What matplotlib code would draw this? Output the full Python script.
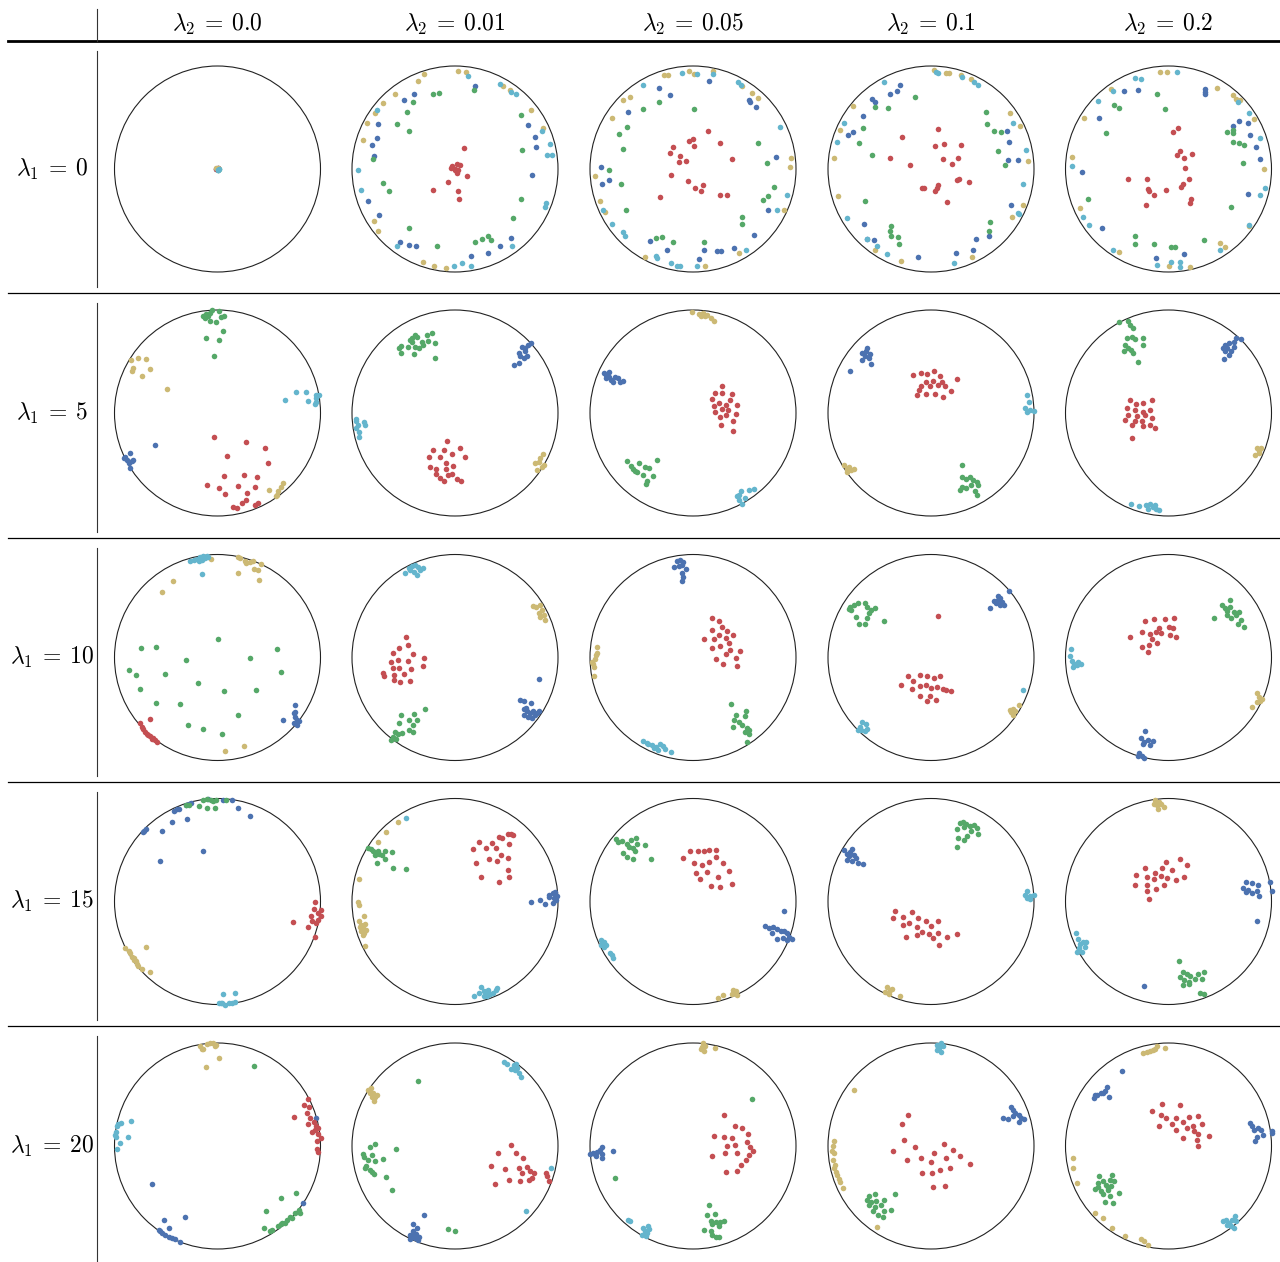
import numpy as np
import matplotlib
matplotlib.use('Agg')
import matplotlib.pyplot as plt
from matplotlib.patches import Circle
from matplotlib.lines import Line2D

# grid labels
lam1 = [0, 5, 10, 15, 20]
lam2 = ['0.0', '0.01', '0.05', '0.1', '0.2']

# embedded points (unit disc coords), one list per panel, row-major (lambda1 rows, lambda2 cols)
blue = [
    [(0.0,0.01),(-0.01,0.0)],
    [(0.19,0.81),(-0.40,0.73),(-0.50,0.67),(-0.75,0.44),(-0.76,0.30),(-0.81,0.23),(-0.79,0.13),(0.71,0.43),(0.78,0.31),(0.79,0.21),(0.75,-0.06),(-0.84,-0.31),(-0.74,-0.45),(-0.53,-0.71),(-0.45,-0.74),(-0.38,-0.75),(0.16,-0.84),(0.32,-0.82),(0.44,-0.75),(0.54,-0.67)],
    [(0.16,0.85),(-0.33,0.79),(-0.22,0.72),(0.54,0.67),(0.55,0.65),(0.61,0.60),(-0.63,0.55),(0.81,0.12),(-0.89,0.02),(-0.88,-0.15),(-0.82,-0.11),(0.73,-0.40),(0.59,-0.64),(-0.42,-0.70),(-0.25,-0.79),(0.11,-0.79),(0.23,-0.80),(0.27,-0.80),(0.40,-0.77),(0.06,-0.87)],
    [(-0.30,0.82),(-0.33,0.76),(-0.40,0.73),(-0.57,0.68),(-0.54,0.65),(-0.66,0.51),(-0.76,0.36),(-0.81,0.33),(0.74,0.37),(0.76,0.26),(0.75,0.09),(0.84,0.09),(0.78,-0.35),(-0.65,-0.53),(-0.55,-0.69),(-0.62,-0.68),(0.44,-0.68),(0.56,-0.65),(0.24,-0.82),(0.41,-0.79),(-0.13,-0.85)],
    [(-0.43,0.76),(-0.30,0.77),(0.35,0.78),(0.35,0.75),(0.35,0.73),(-0.67,0.50),(0.68,0.47),(0.63,0.42),(0.77,0.45),(0.79,0.33),(0.85,0.21),(0.89,0.10),(-0.84,-0.03),(-0.65,-0.57),(0.77,-0.24),(-0.12,-0.86),(0.15,-0.83)],
    [(-0.61,-0.31),(-0.90,-0.43),(-0.88,-0.46),(-0.85,-0.39),(-0.82,-0.46),(-0.86,-0.49),(-0.85,-0.53),(-0.91,-0.44),(-0.83,-0.47)],
    [(0.57,0.47),(0.62,0.49),(0.62,0.58),(0.65,0.64),(0.68,0.63),(0.71,0.66),(0.74,0.68),(0.67,0.53),(0.70,0.55),(0.63,0.55),(0.68,0.60)],
    [(-0.86,0.39),(-0.84,0.37),(-0.82,0.35),(-0.84,0.34),(-0.80,0.32),(-0.76,0.35),(-0.73,0.34),(-0.78,0.30),(-0.68,0.31),(-0.71,0.30),(-0.82,0.40)],
    [(-0.62,0.63),(-0.67,0.58),(-0.64,0.55),(-0.60,0.53),(-0.58,0.48),(-0.67,0.51),(-0.63,0.60),(-0.59,0.57),(-0.79,0.41)],
    [(0.66,0.73),(0.70,0.72),(0.64,0.69),(0.59,0.68),(0.55,0.66),(0.53,0.63),(0.57,0.63),(0.61,0.60),(0.55,0.60),(0.59,0.56),(0.54,0.52),(0.64,0.64)],
    [(0.75,-0.46),(0.64,-0.61),(0.74,-0.54),(0.75,-0.58),(0.77,-0.61),(0.74,-0.64),(0.77,-0.66),(0.79,-0.62),(0.75,-0.53)],
    [(0.82,-0.21),(0.63,-0.41),(0.67,-0.42),(0.74,-0.44),(0.67,-0.50),(0.70,-0.52),(0.73,-0.54),(0.76,-0.52),(0.80,-0.54),(0.82,-0.52),(0.67,-0.56),(0.71,-0.58),(0.75,-0.59),(0.78,-0.56),(0.69,-0.49)],
    [(-0.16,0.94),(-0.13,0.95),(-0.10,0.93),(-0.14,0.89),(-0.11,0.90),(-0.07,0.86),(-0.11,0.82),(-0.10,0.78),(-0.11,0.74),(-0.18,0.88)],
    [(0.76,0.65),(0.65,0.60),(0.67,0.58),(0.69,0.54),(0.63,0.53),(0.67,0.51),(0.71,0.51),(0.61,0.55),(0.65,0.56),(0.57,0.48)],
    [(-0.23,-0.71),(-0.27,-0.78),(-0.24,-0.82),(-0.20,-0.80),(-0.15,-0.81),(-0.18,-0.85),(-0.25,-0.84),(-0.29,-0.93),(-0.26,-0.96),(-0.24,-0.98),(-0.30,-0.96)],
    [(-0.71,0.68),(-0.69,0.70),(-0.72,0.67),(-0.54,0.68),(-0.44,0.77),(-0.30,0.80),(-0.42,0.88),(-0.39,0.90),(-0.37,0.90),(-0.31,0.94),(-0.28,0.95),(-0.26,0.96),(-0.14,0.49),(-0.56,0.39),(-0.09,1.00),(0.05,0.99),(0.14,0.99),(0.20,0.91),(0.32,0.83)],
    [(0.74,0.00),(0.83,0.01),(0.87,-0.02),(0.91,0.06),(0.95,0.08),(0.97,0.09),(0.99,0.05),(0.96,0.03),(0.95,-0.01),(0.98,0.01),(0.91,0.04)],
    [(0.88,-0.09),(0.70,-0.24),(0.74,-0.26),(0.78,-0.25),(0.82,-0.27),(0.85,-0.29),(0.88,-0.29),(0.91,-0.31),(0.93,-0.34),(0.96,-0.36),(0.91,-0.37),(0.87,-0.35),(0.82,-0.36),(0.77,-0.31)],
    [(-0.84,0.50),(-0.82,0.46),(-0.79,0.48),(-0.80,0.44),(-0.75,0.45),(-0.73,0.42),(-0.77,0.39),(-0.82,0.40),(-0.71,0.37),(-0.66,0.36),(-0.77,0.51)],
    [(0.75,0.19),(0.81,0.18),(0.87,0.16),(0.72,0.13),(0.77,0.11),(0.81,0.08),(0.86,0.10),(0.88,0.05),(0.75,0.09),(0.99,0.19),(1.00,0.10),(0.86,-0.19),(-0.24,-0.82)],
    [(0.83,-0.55),(0.96,0.27),(-0.64,-0.37),(-0.52,-0.72),(-0.32,-0.69),(-0.47,-0.80),(-0.57,-0.82),(-0.54,-0.84),(-0.51,-0.86),(-0.47,-0.88),(-0.44,-0.89),(-0.41,-0.90),(-0.36,-0.93),(-0.56,-0.83)],
    [(-0.30,-0.67),(-0.41,-0.76),(-0.37,-0.80),(-0.44,-0.86),(-0.42,-0.87),(-0.39,-0.89),(-0.36,-0.91),(-0.44,-0.90),(-0.35,-0.88),(-0.38,-0.85),(-0.41,-0.83)],
    [(-0.97,-0.07),(-0.95,-0.08),(-0.93,-0.06),(-0.90,-0.04),(-0.88,-0.01),(-0.88,-0.08),(-0.94,-0.10),(-1.00,-0.08),(-0.78,-0.05),(-0.88,-0.12)],
    [(0.70,0.27),(0.75,0.26),(0.78,0.38),(0.80,0.35),(0.82,0.32),(0.85,0.30),(0.87,0.27),(0.90,0.26),(0.85,0.23),(0.80,0.29)],
    [(-0.45,0.73),(-0.72,0.47),(-0.69,0.50),(-0.66,0.51),(-0.62,0.53),(-0.60,0.57),(-0.58,0.48),(-0.64,0.51),(-0.71,0.50),(0.79,0.22),(0.81,0.19),(0.83,0.16),(0.87,0.17),(0.90,0.16),(0.92,0.11),(0.86,0.09),(0.84,0.05),(1.00,0.15),(1.00,0.13)],
]

green = [
    [(0.01,0.0),(0.0,-0.01)],
    [(-0.21,0.73),(-0.16,0.74),(0.18,0.77),(-0.41,0.65),(-0.47,0.55),(-0.56,0.44),(-0.45,0.37),(0.64,0.52),(0.65,0.18),(-0.80,0.10),(-0.70,-0.14),(-0.64,-0.21),(0.64,-0.29),(0.56,-0.48),(-0.45,-0.57),(-0.17,-0.75),(0.19,-0.71),(0.26,-0.68),(0.32,-0.65),(0.35,-0.69)],
    [(-0.33,0.65),(0.01,0.58),(-0.49,0.58),(-0.64,0.41),(-0.72,0.34),(-0.68,0.19),(-0.82,-0.01),(-0.70,-0.15),(0.63,0.25),(0.72,0.06),(0.79,-0.17),(0.73,-0.26),(0.68,-0.30),(-0.65,-0.40),(0.48,-0.47),(0.48,-0.53),(-0.36,-0.67),(-0.30,-0.66),(-0.19,-0.71),(0.11,-0.71)],
    [(-0.16,0.70),(-0.42,0.59),(-0.54,0.60),(-0.66,0.40),(-0.70,0.25),(-0.57,0.14),(0.53,0.55),(0.54,0.44),(0.61,0.37),(0.68,0.36),(0.65,0.17),(0.72,0.04),(-0.64,-0.31),(-0.39,-0.55),(-0.40,-0.60),(-0.39,-0.65),(-0.32,-0.66),(-0.31,-0.73),(0.57,-0.51),(0.56,-0.60)],
    [(-0.11,0.73),(-0.03,0.58),(-0.53,0.62),(-0.48,0.59),(-0.61,0.35),(0.57,0.36),(0.63,0.38),(0.63,0.35),(0.63,0.26),(0.68,0.25),(0.73,0.23),(0.72,0.06),(-0.78,-0.29),(0.61,-0.37),(-0.33,-0.65),(-0.33,-0.73),(-0.14,-0.73),(0.02,-0.76),(0.06,-0.76),(0.34,-0.69)],
    [(-0.14,0.94),(-0.11,0.96),(-0.07,0.97),(-0.05,1.00),(0.01,0.99),(-0.12,0.92),(-0.09,0.94),(0.03,0.93),(0.06,0.94),(-0.07,0.89),(-0.01,0.88),(0.05,0.80),(-0.11,0.73),(0.01,0.71),(-0.03,0.55)],
    [(-0.54,0.63),(-0.52,0.65),(-0.52,0.58),(-0.46,0.64),(-0.44,0.71),(-0.42,0.73),(-0.39,0.76),(-0.37,0.74),(-0.40,0.57),(-0.39,0.64),(-0.35,0.63),(-0.32,0.69),(-0.31,0.66),(-0.27,0.76),(-0.22,0.78),(-0.26,0.70),(-0.19,0.68),(-0.19,0.53),(-0.42,0.69)],
    [(-0.64,-0.47),(-0.60,-0.51),(-0.58,-0.54),(-0.54,-0.57),(-0.49,-0.60),(-0.52,-0.49),(-0.47,-0.52),(-0.43,-0.53),(-0.35,-0.46),(-0.45,-0.66),(-0.46,-0.69),(-0.39,-0.61),(-0.56,-0.56)],
    [(0.30,-0.50),(0.30,-0.62),(0.34,-0.64),(0.41,-0.65),(0.45,-0.67),(0.39,-0.70),(0.30,-0.72),(0.28,-0.75),(0.34,-0.73),(0.43,-0.76),(0.45,-0.80),(0.38,-0.62),(0.46,-0.70)],
    [(-0.48,0.88),(-0.39,0.89),(-0.37,0.85),(-0.34,0.83),(-0.40,0.73),(-0.35,0.74),(-0.33,0.72),(-0.25,0.73),(-0.25,0.66),(-0.42,0.66),(-0.39,0.63),(-0.43,0.60),(-0.36,0.61),(-0.34,0.58),(-0.30,0.50)],
    [(0.00,0.18),(-0.74,0.09),(-0.60,0.10),(0.58,0.08),(-0.31,-0.02),(0.32,0.00),(-0.86,-0.12),(-0.79,-0.17),(-0.51,-0.16),(0.62,-0.14),(-0.75,-0.31),(-0.19,-0.25),(0.06,-0.33),(0.37,-0.32),(-0.60,-0.44),(-0.36,-0.45),(0.20,-0.56),(-0.29,-0.66),(-0.14,-0.69),(0.04,-0.74)],
    [(-0.29,-0.50),(-0.52,-0.56),(-0.40,-0.55),(-0.45,-0.61),(-0.37,-0.61),(-0.54,-0.64),(-0.41,-0.66),(-0.45,-0.70),(-0.41,-0.72),(-0.58,-0.72),(-0.55,-0.74),(-0.51,-0.73),(-0.60,-0.77),(-0.62,-0.80),(-0.57,-0.79)],
    [(0.37,-0.45),(0.51,-0.52),(0.42,-0.56),(0.50,-0.57),(0.40,-0.61),(0.45,-0.63),(0.48,-0.66),(0.52,-0.68),(0.54,-0.70),(0.50,-0.72),(0.54,-0.74),(0.39,-0.67),(0.52,-0.82)],
    [(-0.79,0.49),(-0.78,0.46),(-0.75,0.51),(-0.71,0.53),(-0.64,0.53),(-0.62,0.49),(-0.58,0.46),(-0.54,0.48),(-0.60,0.43),(-0.62,0.38),(-0.70,0.33),(-0.64,0.33),(-0.73,0.39),(-0.80,0.47),(-0.46,0.35)],
    [(0.60,0.56),(0.52,0.51),(0.55,0.48),(0.57,0.45),(0.60,0.49),(0.64,0.44),(0.66,0.41),(0.68,0.44),(0.70,0.36),(0.73,0.30),(0.57,0.41),(0.61,0.38),(0.44,0.38),(0.67,0.33)],
    [(-0.31,0.94),(-0.28,0.94),(-0.18,0.93),(-0.14,0.99),(-0.10,1.00),(-0.06,0.99),(-0.04,0.98),(-0.01,0.99),(0.08,0.99),(-0.10,0.91),(-0.02,0.91)],
    [(-0.84,0.52),(-0.82,0.51),(-0.80,0.49),(-0.77,0.47),(-0.74,0.46),(-0.71,0.45),(-0.75,0.49),(-0.78,0.45),(-0.68,0.49),(-0.61,0.48),(-0.76,0.37),(-0.68,0.41),(-0.60,0.33),(-0.48,0.32)],
    [(-0.75,0.61),(-0.73,0.58),(-0.69,0.59),(-0.64,0.56),(-0.60,0.60),(-0.55,0.62),(-0.62,0.53),(-0.58,0.52),(-0.54,0.56),(-0.47,0.55),(-0.68,0.47),(-0.64,0.43),(-0.58,0.41),(-0.56,0.49),(-0.41,0.41)],
    [(0.28,0.76),(0.31,0.77),(0.34,0.75),(0.38,0.73),(0.42,0.74),(0.45,0.71),(0.46,0.66),(0.39,0.68),(0.32,0.72),(0.25,0.70),(0.35,0.64),(0.32,0.60),(0.26,0.62),(0.25,0.53)],
    [(0.10,-0.58),(0.14,-0.68),(0.18,-0.70),(0.21,-0.72),(0.11,-0.73),(0.15,-0.76),(0.20,-0.78),(0.26,-0.75),(0.29,-0.70),(0.34,-0.68),(0.33,-0.75),(0.14,-0.81),(0.20,-0.80),(0.31,-0.89),(0.34,-0.90)],
    [(0.35,0.78),(0.76,-0.46),(0.62,-0.50),(0.47,-0.63),(0.45,-0.80),(0.51,-0.83),(0.53,-0.82),(0.59,-0.78),(0.62,-0.76),(0.66,-0.75),(0.67,-0.72),(0.70,-0.69),(0.72,-0.70),(0.75,-0.65),(0.79,-0.62),(0.80,-0.65),(0.63,-0.75)],
    [(-0.36,0.63),(-0.83,-0.01),(-0.78,0.02),(-0.57,-0.03),(-0.89,-0.08),(-0.88,-0.11),(-0.81,-0.09),(-0.84,-0.14),(-0.78,-0.15),(-0.86,-0.19),(-0.83,-0.23),(-0.87,-0.21),(-0.81,-0.25),(-0.79,-0.27),(-0.70,-0.13),(-0.67,-0.30),(-0.61,-0.43),(-0.07,-0.81),(0.00,-0.83)],
    [(0.57,0.46),(-0.76,-0.31),(0.16,-0.57),(0.21,-0.66),(0.14,-0.67),(0.17,-0.73),(0.22,-0.74),(0.26,-0.74),(0.30,-0.73),(0.25,-0.78),(0.18,-0.76),(0.11,-0.82),(0.17,-0.83),(0.22,-0.88),(0.25,-0.88),(0.18,-0.86)],
    [(-0.35,-0.47),(-0.60,-0.49),(-0.54,-0.47),(-0.62,-0.52),(-0.58,-0.54),(-0.53,-0.53),(-0.46,-0.52),(-0.60,-0.57),(-0.54,-0.59),(-0.49,-0.57),(-0.56,-0.63),(-0.51,-0.67),(-0.46,-0.63),(-0.39,-0.62),(-0.47,-0.69)],
    [(-0.67,-0.29),(-0.55,-0.28),(-0.64,-0.34),(-0.57,-0.33),(-0.53,-0.34),(-0.68,-0.36),(-0.61,-0.38),(-0.56,-0.39),(-0.71,-0.42),(-0.66,-0.44),(-0.59,-0.43),(-0.64,-0.47),(-0.57,-0.49),(-0.48,-0.46),(-0.62,-0.54),(-0.54,-0.55),(-0.59,-0.41),(-0.68,-0.40)],
]

red = [
    [(-0.015,0.0),(0.0,0.005)],
    [(0.09,0.20),(0.00,0.00),(-0.03,0.03),(0.02,0.05),(0.05,0.04),(0.00,-0.01),(0.03,-0.01),(0.02,-0.04),(-0.04,0.01),(0.12,-0.07),(-0.07,-0.13),(-0.21,-0.20),(0.03,-0.21),(0.04,-0.29)],
    [(0.15,0.37),(0.00,0.29),(-0.04,0.27),(-0.19,0.21),(-0.22,0.16),(0.01,0.22),(0.26,0.25),(-0.13,0.13),(-0.14,0.07),(-0.07,0.08),(0.38,0.10),(-0.21,-0.06),(-0.05,-0.12),(0.02,-0.18),(0.10,-0.16),(0.08,-0.21),(-0.32,-0.27),(0.26,-0.25),(0.33,-0.25)],
    [(0.07,0.39),(-0.28,0.31),(0.04,0.22),(0.13,0.24),(0.29,0.23),(-0.40,0.11),(0.12,0.10),(0.26,0.11),(0.20,0.05),(-0.20,0.04),(-0.07,-0.18),(0.07,-0.16),(0.06,-0.18),(0.04,-0.21),(0.25,-0.11),(0.27,-0.10),(0.37,-0.13),(0.16,-0.32),(-0.09,-0.18)],
    [(0.04,0.36),(0.09,0.40),(0.08,0.14),(0.11,0.17),(0.23,0.15),(0.15,0.11),(0.16,0.01),(0.20,-0.10),(-0.39,-0.10),(-0.21,-0.10),(-0.20,-0.19),(-0.19,-0.21),(-0.14,-0.25),(-0.02,-0.20),(0.14,-0.15),(0.12,-0.17),(0.22,-0.29),(0.21,-0.33),(-0.22,-0.35)],
    [(-0.03,-0.23),(0.28,-0.28),(0.46,-0.34),(0.09,-0.42),(0.49,-0.49),(0.06,-0.61),(0.26,-0.60),(0.38,-0.62),(-0.10,-0.70),(0.01,-0.73),(0.20,-0.71),(0.36,-0.72),(0.07,-0.79),(0.29,-0.78),(0.28,-0.84),(0.24,-0.87),(0.15,-0.91),(0.19,-0.92),(0.36,-0.89),(0.39,-0.87)],
    [(-0.08,-0.27),(-0.21,-0.36),(-0.11,-0.36),(0.05,-0.34),(-0.25,-0.43),(-0.15,-0.43),(-0.03,-0.40),(0.10,-0.43),(-0.09,-0.49),(-0.02,-0.51),(-0.24,-0.52),(-0.18,-0.54),(-0.09,-0.54),(-0.18,-0.59),(-0.07,-0.60),(-0.03,-0.59),(-0.15,-0.63),(-0.11,-0.66),(0.02,-0.64),(0.06,-0.66)],
    [(0.28,0.26),(0.21,0.19),(0.28,0.19),(0.38,0.18),(0.18,0.14),(0.25,0.10),(0.32,0.08),(0.36,0.13),(0.43,0.08),(0.20,0.07),(0.28,0.04),(0.34,0.03),(0.21,0.01),(0.32,-0.02),(0.42,-0.01),(0.26,-0.04),(0.39,-0.08),(0.27,-0.12),(0.39,-0.17)],
    [(-0.17,0.37),(-0.10,0.39),(-0.04,0.38),(0.03,0.41),(0.09,0.36),(0.25,0.33),(-0.05,0.30),(0.02,0.31),(0.11,0.30),(-0.10,0.26),(-0.01,0.26),(0.07,0.27),(0.14,0.26),(-0.12,0.22),(-0.05,0.18),(0.04,0.18),(0.19,0.21),(-0.14,0.17),(0.12,0.16)],
    [(-0.37,0.13),(-0.25,0.10),(-0.16,0.13),(-0.32,0.09),(-0.40,0.05),(-0.33,0.03),(-0.25,0.01),(-0.18,0.03),(-0.39,-0.02),(-0.31,-0.03),(-0.23,-0.02),(-0.16,-0.05),(-0.42,-0.07),(-0.33,-0.08),(-0.26,-0.08),(-0.35,-0.12),(-0.25,-0.13),(-0.18,-0.12),(-0.13,-0.15),(-0.35,-0.24)],
    [(-0.66,-0.60),(-0.75,-0.64),(-0.73,-0.67),(-0.70,-0.72),(-0.68,-0.74),(-0.66,-0.76),(-0.64,-0.79),(-0.61,-0.80),(-0.59,-0.82),(-0.72,-0.69),(-0.67,-0.75),(-0.63,-0.78)],
    [(-0.48,0.20),(-0.46,0.12),(-0.54,0.09),(-0.60,0.04),(-0.41,0.03),(-0.30,0.00),(-0.62,-0.04),(-0.55,-0.02),(-0.46,-0.03),(-0.60,-0.10),(-0.54,-0.10),(-0.43,-0.11),(-0.31,-0.08),(-0.70,-0.15),(-0.69,-0.18),(-0.59,-0.17),(-0.50,-0.16),(-0.59,-0.22),(-0.53,-0.24),(-0.44,-0.23)],
    [(0.18,0.38),(0.25,0.35),(0.18,0.27),(0.28,0.30),(0.33,0.26),(0.25,0.22),(0.32,0.19),(0.39,0.22),(0.11,0.18),(0.20,0.18),(0.35,0.14),(0.26,0.11),(0.18,0.09),(0.36,0.07),(0.46,0.06),(0.32,0.03),(0.22,-0.01),(0.42,0.00),(0.29,-0.06),(0.43,-0.08)],
    [(0.07,0.40),(-0.22,-0.18),(-0.11,-0.17),(-0.04,-0.18),(0.03,-0.20),(0.09,-0.18),(-0.29,-0.27),(-0.17,-0.23),(-0.11,-0.28),(-0.05,-0.27),(0.00,-0.30),(0.06,-0.29),(0.12,-0.31),(0.19,-0.33),(-0.18,-0.31),(-0.11,-0.37),(-0.01,-0.37),(0.15,-0.32),(-0.04,-0.42),(0.05,-0.41)],
    [(-0.23,0.35),(-0.14,0.37),(-0.03,0.37),(0.05,0.38),(-0.09,0.29),(0.00,0.30),(0.04,0.29),(-0.26,0.25),(-0.18,0.23),(-0.12,0.25),(-0.07,0.24),(0.01,0.22),(-0.37,0.20),(-0.16,0.18),(0.07,0.20),(-0.26,0.10),(-0.19,0.12),(-0.11,0.14),(-0.20,0.05)],
    [(0.95,0.00),(1.00,-0.08),(0.98,-0.11),(1.00,-0.14),(0.98,-0.18),(0.96,-0.21),(0.94,-0.07),(0.91,-0.14),(0.92,-0.19),(0.73,-0.20),(0.88,-0.25),(0.95,-0.34)],
    [(0.43,0.63),(0.46,0.62),(0.51,0.66),(0.54,0.66),(0.56,0.65),(0.23,0.58),(0.36,0.57),(0.52,0.56),(0.17,0.51),(0.30,0.52),(0.40,0.52),(0.45,0.45),(0.33,0.41),(0.41,0.39),(0.51,0.42),(0.20,0.37),(0.51,0.31),(0.25,0.24),(0.43,0.19),(0.52,0.24)],
    [(-0.10,0.42),(-0.03,0.49),(0.05,0.49),(0.11,0.49),(0.16,0.50),(0.22,0.50),(0.22,0.43),(0.01,0.37),(0.09,0.35),(0.16,0.38),(0.29,0.37),(0.03,0.28),(0.14,0.29),(0.24,0.24),(0.35,0.30),(0.07,0.22),(0.17,0.15),(0.26,0.14),(0.38,0.17)],
    [(-0.35,-0.09),(-0.18,-0.10),(-0.37,-0.16),(-0.27,-0.15),(-0.13,-0.16),(-0.05,-0.19),(0.07,-0.19),(-0.27,-0.23),(-0.21,-0.21),(-0.14,-0.25),(0.00,-0.24),(-0.09,-0.30),(-0.02,-0.32),(0.07,-0.31),(0.25,-0.32),(-0.24,-0.34),(-0.14,-0.33),(0.02,-0.35),(0.16,-0.34),(0.08,-0.42)],
    [(-0.02,0.38),(0.11,0.41),(-0.23,0.33),(-0.06,0.33),(0.03,0.31),(0.18,0.35),(-0.13,0.28),(-0.32,0.26),(-0.21,0.24),(-0.07,0.25),(-0.01,0.23),(0.15,0.24),(-0.14,0.22),(0.07,0.21),(-0.33,0.16),(-0.21,0.16),(-0.04,0.16),(-0.12,0.12),(-0.21,0.10),(-0.19,0.02)],
    [(0.88,0.46),(0.84,0.40),(0.89,0.38),(0.74,0.28),(0.87,0.32),(0.90,0.27),(0.88,0.21),(0.94,0.23),(0.96,0.19),(0.98,0.17),(0.92,0.14),(0.95,0.16),(0.98,0.12),(1.00,0.08),(0.97,0.05),(0.97,-0.03),(0.98,-0.06)],
    [(0.54,0.01),(0.42,-0.07),(0.59,-0.07),(0.66,-0.12),(0.35,-0.19),(0.49,-0.22),(0.62,-0.21),(0.70,-0.20),(0.65,-0.26),(0.73,-0.24),(0.77,-0.26),(0.88,-0.26),(0.89,-0.29),(0.52,-0.33),(0.63,-0.34),(0.72,-0.33),(0.75,-0.31),(0.91,-0.34),(0.39,-0.37)],
    [(0.30,0.30),(0.41,0.19),(0.48,0.17),(0.20,0.10),(0.30,0.09),(0.38,0.08),(0.53,0.12),(0.33,0.00),(0.41,0.01),(0.52,0.04),(0.55,-0.01),(0.58,-0.05),(0.18,-0.10),(0.31,-0.07),(0.43,-0.07),(0.54,-0.09),(0.51,-0.14),(0.47,-0.18),(0.43,-0.24),(0.32,-0.25)],
    [(-0.22,0.30),(-0.28,0.21),(-0.26,0.06),(-0.37,-0.05),(-0.16,-0.01),(-0.23,-0.14),(-0.10,-0.12),(0.03,-0.07),(0.13,0.02),(0.21,-0.04),(0.15,-0.12),(0.28,-0.10),(0.38,-0.17),(0.00,-0.16),(-0.09,-0.26),(0.01,-0.26),(0.09,-0.23),(0.18,-0.21),(0.02,-0.40),(0.14,-0.39)],
    [(-0.06,0.41),(0.11,0.40),(-0.16,0.34),(-0.07,0.30),(-0.02,0.27),(0.07,0.27),(0.20,0.28),(0.29,0.29),(-0.09,0.19),(0.03,0.21),(0.14,0.23),(0.24,0.19),(0.33,0.21),(0.07,0.16),(0.18,0.17),(0.29,0.12),(0.25,0.15),(0.39,0.10),(0.14,0.08),(0.28,0.06),(0.29,0.00)],
]

khaki = [
    [(-0.01,0.01),(0.005,0.01)],
    [(-0.30,0.92),(-0.36,0.85),(0.03,0.95),(0.11,0.94),(0.47,0.81),(0.53,0.77),(-0.58,0.73),(-0.70,0.64),(-0.78,0.54),(-0.85,0.45),(-0.89,0.28),(0.74,0.57),(0.85,0.40),(-0.79,-0.50),(-0.75,-0.60),(-0.31,-0.90),(-0.20,-0.94),(-0.09,-0.96)],
    [(-0.28,0.91),(-0.24,0.91),(-0.04,0.95),(0.01,0.92),(0.19,0.95),(0.48,0.81),(0.57,0.74),(0.63,0.69),(-0.61,0.70),(-0.68,0.67),(-0.79,0.50),(0.95,0.11),(0.94,0.02),(-0.95,-0.07),(-0.90,-0.31),(-0.85,-0.42),(0.88,-0.40),(-0.47,-0.85),(0.45,-0.82),(0.12,-0.94)],
    [(0.03,0.96),(0.15,0.93),(0.17,0.93),(0.29,0.91),(0.39,0.87),(-0.76,0.61),(-0.88,0.38),(-0.94,0.11),(0.77,0.54),(0.86,0.42),(0.94,0.08),(-0.90,-0.26),(0.89,-0.35),(0.79,-0.47),(-0.54,-0.79),(-0.29,-0.89),(0.40,-0.85)],
    [(-0.08,0.94),(-0.01,0.94),(-0.56,0.78),(0.47,0.79),(0.63,0.72),(0.66,0.68),(0.69,0.67),(0.83,0.49),(-0.82,0.50),(-0.94,0.12),(0.93,0.00),(-0.86,-0.38),(0.78,-0.55),(0.50,-0.72),(0.55,-0.76),(-0.48,-0.81),(0.00,-0.94),(0.21,-0.95)],
    [(-0.84,0.51),(-0.77,0.53),(-0.69,0.52),(-0.82,0.44),(-0.83,0.41),(-0.66,0.43),(-0.73,0.36),(-0.49,0.23),(0.50,-0.75),(0.58,-0.80),(0.59,-0.76),(0.62,-0.72),(0.64,-0.68),(0.57,-0.81)],
    [(0.80,-0.55),(0.78,-0.49),(0.83,-0.44),(0.85,-0.40),(0.86,-0.50),(0.82,-0.48),(0.84,-0.52)],
    [(-0.01,0.98),(0.06,0.96),(0.10,0.97),(0.14,0.95),(0.17,0.92),(0.20,0.89),(0.12,0.94),(0.08,0.94)],
    [(-0.84,-0.50),(-0.82,-0.54),(-0.78,-0.55),(-0.80,-0.52),(-0.75,-0.54),(-0.82,-0.57)],
    [(0.86,-0.34),(0.88,-0.37),(0.90,-0.34),(0.84,-0.41),(0.88,-0.39)],
    [(-0.06,0.96),(0.20,0.98),(0.22,0.97),(0.27,0.94),(0.28,0.92),(0.32,0.93),(0.34,0.94),(0.35,0.86),(0.39,0.85),(0.42,0.91),(0.20,0.82),(0.40,0.75),(-0.43,0.74),(-0.54,0.64),(0.07,-0.91),(0.26,-0.86)],
    [(0.76,0.50),(0.79,0.49),(0.83,0.51),(0.84,0.46),(0.82,0.43),(0.86,0.41),(0.87,0.36),(0.83,0.39)],
    [(-0.93,0.10),(-0.94,0.02),(-0.95,-0.01),(-0.97,-0.06),(-0.98,-0.04),(-0.96,-0.09),(-0.96,-0.18),(-0.93,0.04)],
    [(0.85,-0.46),(0.80,-0.50),(0.78,-0.53),(0.80,-0.56),(0.77,-0.51),(0.82,-0.52)],
    [(0.86,-0.34),(0.88,-0.38),(0.89,-0.42),(0.86,-0.43),(0.81,-0.48),(0.91,-0.40)],
    [(-0.69,-0.44),(-0.90,-0.45),(-0.86,-0.48),(-0.85,-0.50),(-0.83,-0.54),(-0.81,-0.57),(-0.79,-0.58),(-0.77,-0.63),(-0.73,-0.66),(-0.81,-0.55),(-0.78,-0.61),(-0.66,-0.68)],
    [(-0.55,0.77),(-0.67,0.67),(-0.75,0.58),(-0.93,0.22),(-0.94,0.00),(-0.93,-0.03),(-0.88,-0.14),(-0.93,-0.19),(-0.91,-0.23),(-0.89,-0.26),(-0.91,-0.29),(-0.88,-0.31),(-0.86,-0.28),(-0.87,-0.22),(-0.92,-0.25),(-0.89,-0.33),(-0.87,-0.43)],
    [(0.24,-0.94),(0.29,-0.91),(0.39,-0.86),(0.41,-0.89),(0.43,-0.91),(0.38,-0.90),(0.42,-0.87)],
    [(-0.43,-0.83),(-0.40,-0.86),(-0.45,-0.88),(-0.41,-0.90),(-0.30,-0.92),(-0.38,-0.85)],
    [(-0.13,0.99),(-0.09,0.97),(-0.11,0.94),(-0.07,0.95),(-0.04,0.92),(-0.10,0.90),(-0.14,0.95)],
    [(-0.17,0.97),(-0.14,0.94),(-0.10,0.99),(-0.07,1.00),(-0.04,1.00),(-0.01,0.98),(-0.15,0.94),(-0.02,0.97),(0.01,0.85),(-0.11,0.77)],
    [(-0.84,0.54),(-0.82,0.56),(-0.80,0.51),(-0.78,0.48),(-0.81,0.48),(-0.76,0.50),(-0.79,0.44),(-0.83,0.51)],
    [(0.10,1.00),(0.12,0.97),(0.08,0.94),(0.11,0.92),(0.21,0.95),(0.09,0.96)],
    [(-0.75,0.54),(-0.94,0.05),(-0.95,0.00),(-0.96,-0.05),(-0.94,-0.07),(-0.95,-0.14),(-0.93,-0.18),(-0.94,-0.21),(-0.91,-0.28),(-0.89,-0.32),(-0.88,-0.35),(-0.85,-0.41),(-0.92,-0.25),(-0.52,-0.79)],
    [(-0.25,0.90),(-0.21,0.91),(-0.18,0.92),(-0.13,0.94),(-0.11,0.97),(-0.15,0.93),(-0.03,0.95),(-0.93,-0.12),(-0.93,-0.21),(-0.89,-0.36),(-0.71,-0.65),(-0.64,-0.70),(-0.55,-0.80),(-0.42,-0.87),(-0.27,-0.90),(-0.24,-0.92),(-0.20,-0.96)],
]

cyan = [
    [(0.005,-0.005),(0.01,0.0),(0.0,-0.005)],
    [(0.13,0.90),(0.44,0.83),(0.54,0.75),(0.59,0.73),(-0.76,0.57),(0.84,0.37),(0.92,0.24),(0.89,0.14),(0.94,0.14),(-0.94,-0.01),(-0.91,-0.20),(0.88,-0.33),(0.87,-0.37),(-0.56,-0.75),(0.55,-0.75),(-0.01,-0.94),(0.07,-0.91),(0.16,-0.94)],
    [(-0.11,0.93),(0.04,0.92),(0.19,0.92),(-0.49,0.82),(0.44,0.84),(0.47,0.82),(0.84,0.41),(0.91,-0.25),(0.82,-0.40),(-0.87,-0.40),(-0.79,-0.53),(-0.68,-0.61),(-0.66,-0.65),(-0.36,-0.84),(-0.35,-0.86),(-0.21,-0.91),(-0.16,-0.94),(-0.13,-0.94),(0.04,-0.94),(0.51,-0.79)],
    [(0.05,0.94),(0.07,0.93),(-0.46,0.84),(0.30,0.89),(0.42,0.84),(0.46,0.82),(-0.84,0.45),(-0.91,0.26),(0.80,0.45),(0.92,0.18),(0.89,-0.15),(0.84,-0.43),(0.85,-0.44),(-0.82,-0.48),(-0.62,-0.68),(-0.52,-0.75),(-0.43,-0.83),(0.22,-0.91)],
    [(0.08,0.94),(-0.33,0.88),(-0.27,0.87),(-0.54,0.76),(-0.68,0.66),(0.67,0.65),(0.78,0.54),(0.89,0.30),(-0.94,0.03),(0.94,-0.18),(0.89,-0.25),(-0.83,-0.47),(-0.77,-0.54),(0.78,-0.54),(-0.54,-0.79),(0.50,-0.79),(-0.11,-0.93),(0.02,-0.90),(0.11,-0.90),(0.11,-0.95)],
    [(0.66,0.13),(0.76,0.20),(0.86,0.20),(0.88,0.12),(0.96,0.17),(0.96,0.15),(0.99,0.17),(0.96,0.11),(0.95,0.09)],
    [(-0.96,-0.08),(-0.96,-0.15),(-0.94,-0.12),(-0.93,-0.18),(-0.93,-0.23),(-0.88,-0.09),(-0.87,-0.12),(-0.96,-0.06)],
    [(0.45,-0.80),(0.47,-0.76),(0.50,-0.83),(0.45,-0.84),(0.54,-0.75),(0.59,-0.74),(0.48,-0.88),(0.43,-0.81)],
    [(0.93,0.17),(0.95,0.11),(0.91,0.05),(0.96,0.03),(1.00,0.02),(0.93,0.01)],
    [(-0.36,-0.88),(-0.29,-0.90),(-0.22,-0.89),(-0.18,-0.88),(-0.15,-0.91),(-0.12,-0.93),(-0.09,-0.94),(-0.20,-0.93),(-0.13,-0.89)],
    [(-0.27,0.94),(-0.23,0.95),(-0.20,0.96),(-0.17,0.98),(-0.14,0.99),(-0.10,0.99),(-0.15,0.95),(-0.18,0.94),(-0.12,0.97),(-0.09,0.98),(-0.15,0.81)],
    [(-0.49,0.82),(-0.45,0.87),(-0.42,0.89),(-0.39,0.90),(-0.36,0.88),(-0.34,0.85),(-0.31,0.87),(-0.37,0.80),(-0.40,0.83),(-0.44,0.85)],
    [(-0.49,-0.81),(-0.45,-0.83),(-0.40,-0.85),(-0.36,-0.87),(-0.32,-0.84),(-0.29,-0.86),(-0.34,-0.90),(-0.27,-0.89),(-0.21,-0.92),(-0.38,-0.88),(-0.44,-0.84)],
    [(0.89,-0.32),(-0.67,-0.63),(-0.63,-0.65),(-0.69,-0.67),(-0.71,-0.70),(-0.64,-0.71),(-0.68,-0.70),(-0.62,-0.69)],
    [(-0.95,0.08),(-0.96,0.01),(-0.94,-0.03),(-0.92,-0.06),(-0.89,-0.07),(-0.88,-0.04),(-0.85,-0.06),(-0.93,-0.09)],
    [(0.05,-0.90),(0.17,-0.89),(0.01,-0.99),(0.04,-0.99),(0.07,-1.00),(0.11,-0.99),(0.14,-0.99),(0.17,-0.98),(0.03,-0.99)],
    [(-0.48,0.81),(0.18,-0.92),(0.25,-0.83),(0.23,-0.89),(0.28,-0.87),(0.31,-0.89),(0.34,-0.90),(0.37,-0.89),(0.41,-0.84),(0.40,-0.86),(0.28,-0.92),(0.31,-0.92),(0.32,-0.86)],
    [(-0.89,-0.37),(-0.86,-0.39),(-0.84,-0.42),(-0.89,-0.42),(-0.86,-0.44),(-0.81,-0.50),(-0.79,-0.52),(-0.78,-0.55)],
    [(0.93,0.10),(0.91,0.06),(0.96,0.05),(1.00,0.06),(0.96,0.02),(0.93,0.03)],
    [(-0.90,-0.31),(-0.88,-0.36),(-0.86,-0.41),(-0.83,-0.39),(-0.80,-0.39),(-0.87,-0.45),(-0.89,-0.49),(-0.84,-0.49),(-0.81,-0.44)],
    [(-0.98,0.19),(-0.97,0.21),(-0.94,0.22),(-0.99,0.14),(-1.00,0.11),(-0.99,0.09),(-0.84,0.24),(-0.87,0.09),(-0.95,0.03),(-0.98,-0.03)],
    [(0.48,0.82),(0.50,0.80),(0.54,0.75),(0.57,0.79),(0.59,0.80),(0.60,0.76),(0.62,0.71),(0.64,0.67),(0.58,0.74),(0.93,-0.21),(0.69,-0.63)],
    [(-0.63,-0.72),(-0.61,-0.73),(-0.49,-0.80),(-0.47,-0.83),(-0.44,-0.78),(-0.50,-0.86),(-0.46,-0.87),(-0.43,-0.81),(-0.45,-0.84)],
    [(0.06,0.98),(0.10,1.00),(0.08,0.95),(0.12,0.97),(0.06,0.93),(0.10,0.91),(0.07,0.96)],
    [(0.53,-0.73),(0.56,-0.72),(0.59,-0.75),(0.62,-0.72),(0.65,-0.68),(0.66,-0.73),(0.61,-0.78),(0.57,-0.77),(0.64,-0.80)],
]

series = [blue, green, red, khaki, cyan]
colors = ['#4C72B0', '#55A868', '#C44E52', '#CCB974', '#64B5CD']

plt.rcParams['mathtext.fontset'] = 'cm'

W, H = 1280, 1262
fig = plt.figure(figsize=(W / 100, H / 100), dpi=100)

# panel centres in pixels
col_cx = [217.5, 455, 693, 931, 1168.5]
row_cy = [169, 413, 657.5, 901.5, 1146]
R = 103.0
lim = 1.08

for i in range(5):
    for j in range(5):
        half = R * lim
        ax = fig.add_axes([(col_cx[j] - half) / W, (H - row_cy[i] - half) / H,
                           2 * half / W, 2 * half / H])
        ax.set_xlim(-lim, lim)
        ax.set_ylim(-lim, lim)
        ax.axis('off')
        ax.add_patch(Circle((0, 0), 1, fill=False, lw=0.8, ec='#222222'))
        k = i * 5 + j
        for pts, c in zip(series, colors):
            xy = np.array(pts[k])
            ax.scatter(xy[:, 0], xy[:, 1], s=16, color=c, linewidths=0,
                       clip_on=False, zorder=3)


def hline(y, x0, x1, lw):
    fig.add_artist(Line2D([x0 / W, x1 / W], [1 - y / H, 1 - y / H],
                          transform=fig.transFigure, lw=lw, color='black'))


def vline(x, y0, y1, lw=0.8):
    fig.add_artist(Line2D([x / W, x / W], [1 - y0 / H, 1 - y1 / H],
                          transform=fig.transFigure, lw=lw, color='#333333'))


# table rules
hline(41, 8, 1280, 2.0)
seps = [293, 537.5, 782, 1025.5]
for y in seps:
    hline(y, 8, 1280, 0.9)

vline(97, 9, 41)
tops = [41] + seps
bots = seps + [1268]
for t, b in zip(tops, bots):
    vline(97, t + 10, b - 6)

# headers
for j, v in enumerate(lam2):
    fig.text(col_cx[j] / W, 1 - 24 / H, r'$\lambda_2\:=\:%s$' % v,
             ha='center', va='center', fontsize=17)
for i, v in enumerate(lam1):
    fig.text(52 / W, 1 - row_cy[i] / H, r'$\lambda_1\:=\:%d$' % v,
             ha='center', va='center', fontsize=17)

fig.savefig('out.png', dpi=100)
